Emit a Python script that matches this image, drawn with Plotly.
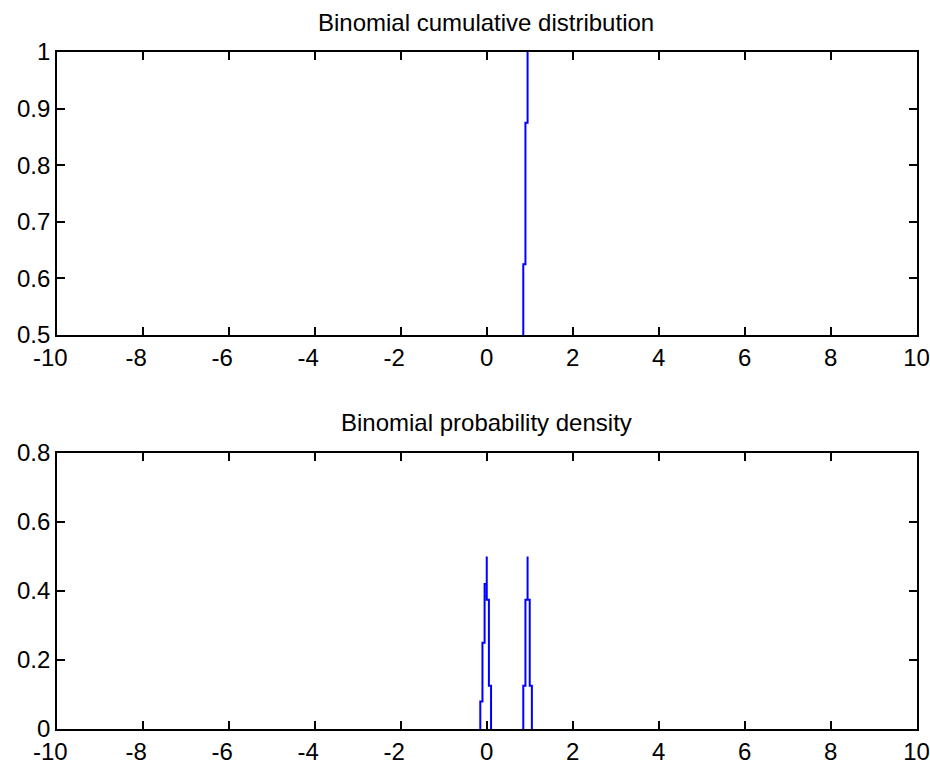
import plotly.graph_objects as go

# CDF staircase (top panel)
cdf_x = [0.85, 0.85, 0.90, 0.90, 0.95, 0.95]
cdf_y = [0.5, 0.625, 0.625, 0.875, 0.875, 1.0]

# PDF staircase (bottom panel), two peaks near 0 and 1
pdf_x = [-0.15, -0.15, -0.10, -0.10, -0.05, -0.05, 0.0, 0.0, 0.0, 0.05, 0.05, 0.10, 0.10,
         None,
         0.85, 0.85, 0.90, 0.90, 0.95, 0.95, 0.95, 1.00, 1.00, 1.05, 1.05]
pdf_y = [0.0, 0.08, 0.08, 0.25, 0.25, 0.42, 0.42, 0.5, 0.375, 0.375, 0.125, 0.125, 0.0,
         None,
         0.0, 0.125, 0.125, 0.375, 0.375, 0.5, 0.375, 0.375, 0.125, 0.125, 0.0]

x_ticks = [-10, -8, -6, -4, -2, 0, 2, 4, 6, 8, 10]
x_labels = ["-10", "-8", "-6", "-4", "-2", "0", "2", "4", "6", "8", "10"]
top_yticks = [0.5, 0.6, 0.7, 0.8, 0.9, 1.0]
top_ylabels = ["0.5", "0.6", "0.7", "0.8", "0.9", "1"]
bot_yticks = [0, 0.2, 0.4, 0.6, 0.8]
bot_ylabels = ["0", "0.2", "0.4", "0.6", "0.8"]

top_title = "Binomial cumulative distribution"
bot_title = "Binomial probability density"

W, H = 930, 765
FONT = dict(family="Liberation Sans, Arial, sans-serif", size=24, color="black")

# negative labels: digits centred on the tick, minus sign hanging to the left
x_text = [t + "\u00a0\u00a0" if t.startswith("-") else t for t in x_labels]

fig = go.Figure()
fig.add_trace(go.Scatter(x=cdf_x, y=cdf_y, mode="lines", xaxis="x", yaxis="y",
                         line=dict(color="#0000ff", width=2), showlegend=False))
fig.add_trace(go.Scatter(x=pdf_x, y=pdf_y, mode="lines", xaxis="x2", yaxis="y2",
                         line=dict(color="#0000ff", width=2), showlegend=False,
                         connectgaps=False))

xdom = [57 / W, 916.5 / W]
axis_common = dict(showline=True, linecolor="black", linewidth=1.7, mirror="ticks",
                   ticks="inside", ticklen=8, tickwidth=1.5, tickcolor="black",
                   showgrid=False, zeroline=False, tickfont=FONT, automargin=False)

fig.update_layout(
    width=W, height=H,
    margin=dict(l=0, r=0, t=0, b=0),
    paper_bgcolor="white", plot_bgcolor="white",
    font=FONT,
    xaxis=dict(domain=xdom, range=[-10, 10], tickvals=x_ticks,
               ticktext=x_text, anchor="y", **axis_common),
    yaxis=dict(domain=[1 - 335 / H, 1 - 52 / H], range=[0.5, 1], tickvals=top_yticks,
               ticktext=top_ylabels, anchor="x", **axis_common),
    xaxis2=dict(domain=xdom, range=[-10, 10], tickvals=x_ticks,
                ticktext=x_text, anchor="y2", **axis_common),
    yaxis2=dict(domain=[1 - 729 / H, 1 - 453 / H], range=[0, 0.8], tickvals=bot_yticks,
                ticktext=bot_ylabels, anchor="x2", **axis_common),
    annotations=[
        dict(text=top_title, x=486.5 / W, y=1 - 22 / H, xref="paper", yref="paper",
             xanchor="center", yanchor="middle", showarrow=False, font=FONT),
        dict(text=bot_title, x=486.5 / W, y=1 - 422 / H, xref="paper", yref="paper",
             xanchor="center", yanchor="middle", showarrow=False, font=FONT),
    ],
)

fig.write_html("out.html")
